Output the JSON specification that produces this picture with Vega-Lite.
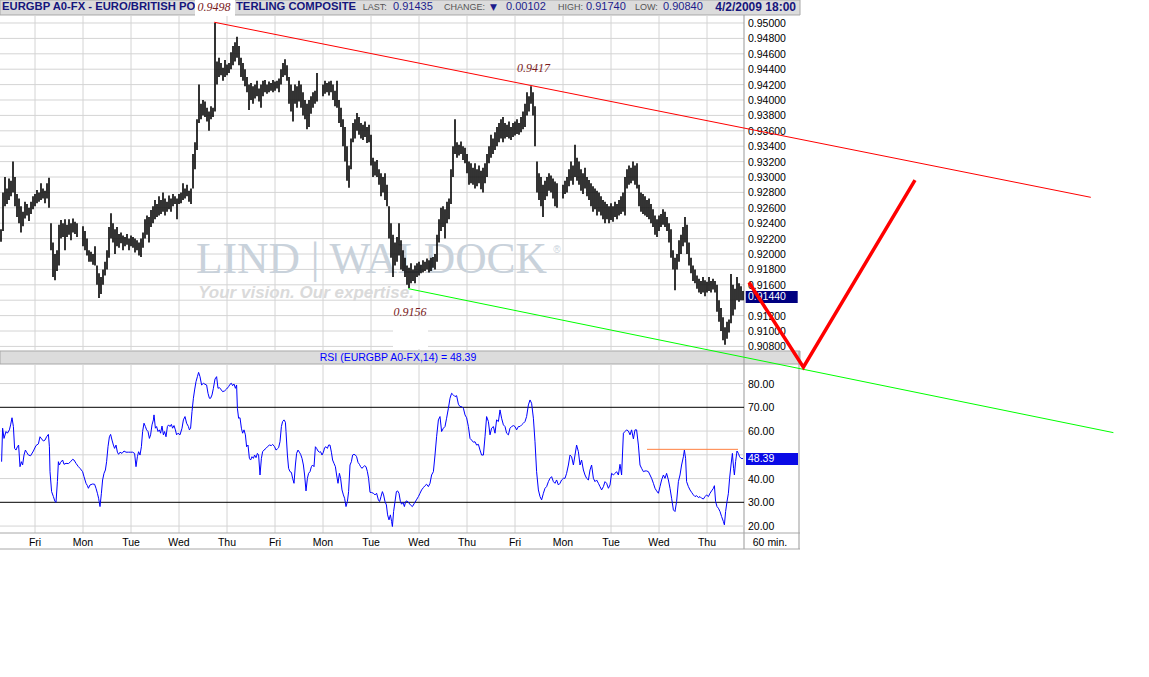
{
"$schema": "https://vega.github.io/schema/vega-lite/v6.json",
"width": 1149, "height": 677, "autosize": "none", "padding": 0,
"background": "white",
"config": {"view": {"stroke": null}, "font": "Liberation Sans"},
"data": {"values": [{}]},
"datasets": {
"pgrid": [{"p":0.908},{"p":0.91},{"p":0.912},{"p":0.914},{"p":0.916},{"p":0.918},{"p":0.92},{"p":0.922},{"p":0.924},{"p":0.926},{"p":0.928},{"p":0.93},{"p":0.932},{"p":0.934},{"p":0.936},{"p":0.938},{"p":0.94},{"p":0.942},{"p":0.944},{"p":0.946},{"p":0.948},{"p":0.95}],
"days": [{"t":0,"d":"Fri"},{"t":24,"d":"Mon"},{"t":48,"d":"Tue"},{"t":72,"d":"Wed"},{"t":96,"d":"Thu"},{"t":120,"d":"Fri"},{"t":144,"d":"Mon"},{"t":168,"d":"Tue"},{"t":192,"d":"Wed"},{"t":216,"d":"Thu"},{"t":240,"d":"Fri"},{"t":264,"d":"Mon"},{"t":288,"d":"Tue"},{"t":312,"d":"Wed"},{"t":336,"d":"Thu"}],
"rgrid": [{"v":20},{"v":40},{"v":50},{"v":60},{"v":80}],
"rlev": [{"v":30},{"v":70}],
"rlabels": [{"v":20},{"v":30},{"v":40},{"v":60},{"v":70},{"v":80}],
"orange": [{"t":306,"v":52.3},{"t":351.5,"v":52.3}],
"upper": [{"t":89.6,"p":0.9501},{"t":527.9,"p":0.92736}],
"lower": [{"t":186.6,"p":0.9155},{"t":539.2,"p":0.8968}],
"arrow": [{"t":357,"p":0.9163},{"t":384.2,"p":0.9053},{"t":440,"p":0.9296}],
"bars": [
{"t":-17,"h":0.9232,"l":0.9216},{"t":-16,"h":0.928,"l":0.923},{"t":-15,"h":0.93,"l":0.9262},{"t":-14,"h":0.9285,"l":0.9265},{"t":-13,"h":0.9298,"l":0.927},{"t":-12,"h":0.9295,"l":0.9275},{"t":-11,"h":0.932,"l":0.928},{"t":-10,"h":0.93,"l":0.9262},{"t":-9,"h":0.9278,"l":0.9248},{"t":-8,"h":0.9272,"l":0.924},{"t":-7,"h":0.9262,"l":0.9228},{"t":-6,"h":0.9255,"l":0.9236},{"t":-5,"h":0.9268,"l":0.9246},{"t":-4,"h":0.9265,"l":0.925},{"t":-3,"h":0.926,"l":0.9243},{"t":-2,"h":0.9268,"l":0.9252},{"t":-1,"h":0.9275,"l":0.9258},
{"t":0,"h":0.9278,"l":0.9262},{"t":1,"h":0.9283,"l":0.9266},{"t":2,"h":0.928,"l":0.9268},{"t":3,"h":0.9292,"l":0.927},{"t":4,"h":0.9285,"l":0.9272},{"t":5,"h":0.9282,"l":0.9266},{"t":6,"h":0.9292,"l":0.9272},{"t":7,"h":0.9299,"l":0.926},{"t":8,"h":0.924,"l":0.9205},{"t":9,"h":0.9215,"l":0.917},{"t":10,"h":0.92,"l":0.9166},{"t":11,"h":0.9205,"l":0.9178},{"t":12,"h":0.9238,"l":0.9185},{"t":13,"h":0.9244,"l":0.922},{"t":14,"h":0.924,"l":0.9222},{"t":15,"h":0.9245,"l":0.9205},{"t":16,"h":0.9238,"l":0.9222},{"t":17,"h":0.9245,"l":0.9225},{"t":18,"h":0.924,"l":0.9218},{"t":19,"h":0.9246,"l":0.9228},{"t":20,"h":0.9242,"l":0.9226},{"t":21,"h":0.924,"l":0.9222},
{"t":24,"h":0.9236,"l":0.921},{"t":25,"h":0.923,"l":0.9205},{"t":26,"h":0.922,"l":0.9198},{"t":27,"h":0.9205,"l":0.919},{"t":28,"h":0.9203,"l":0.919},{"t":29,"h":0.92,"l":0.9186},{"t":30,"h":0.921,"l":0.9185},{"t":31,"h":0.9185,"l":0.916},{"t":32,"h":0.9175,"l":0.9143},{"t":33,"h":0.917,"l":0.9148},{"t":34,"h":0.918,"l":0.916},{"t":35,"h":0.919,"l":0.9172},{"t":36,"h":0.9205,"l":0.918},{"t":37,"h":0.9235,"l":0.9195},{"t":38,"h":0.9253,"l":0.922},{"t":39,"h":0.924,"l":0.9215},{"t":40,"h":0.9232,"l":0.92},{"t":41,"h":0.9235,"l":0.921},{"t":42,"h":0.9226,"l":0.9208},{"t":43,"h":0.9228,"l":0.9214},{"t":44,"h":0.9224,"l":0.9205},{"t":45,"h":0.9222,"l":0.921},{"t":46,"h":0.9226,"l":0.9212},{"t":47,"h":0.922,"l":0.9205},{"t":48,"h":0.9224,"l":0.921},{"t":49,"h":0.9222,"l":0.9208},{"t":50,"h":0.922,"l":0.9202},{"t":51,"h":0.9218,"l":0.9205},{"t":52,"h":0.9215,"l":0.9198},{"t":53,"h":0.922,"l":0.9196},{"t":54,"h":0.9228,"l":0.9208},{"t":55,"h":0.9245,"l":0.922},{"t":56,"h":0.925,"l":0.9225},{"t":57,"h":0.9248,"l":0.9215},{"t":58,"h":0.9257,"l":0.9235},{"t":59,"h":0.9262,"l":0.924},{"t":60,"h":0.927,"l":0.9245},{"t":61,"h":0.9265,"l":0.9248},{"t":62,"h":0.9275,"l":0.925},{"t":63,"h":0.927,"l":0.9252},{"t":64,"h":0.928,"l":0.9255},{"t":65,"h":0.9272,"l":0.925},{"t":66,"h":0.9268,"l":0.9255},{"t":67,"h":0.9276,"l":0.9258},{"t":68,"h":0.9272,"l":0.9255},{"t":69,"h":0.9278,"l":0.9262},{"t":70,"h":0.9275,"l":0.9265},{"t":71,"h":0.9272,"l":0.9245},{"t":72,"h":0.9278,"l":0.9265},{"t":73,"h":0.928,"l":0.9266},{"t":74,"h":0.9292,"l":0.927},{"t":75,"h":0.9285,"l":0.9272},{"t":76,"h":0.929,"l":0.9275},{"t":77,"h":0.9282,"l":0.9268},{"t":78,"h":0.9285,"l":0.9265},{"t":79,"h":0.933,"l":0.9285},{"t":80,"h":0.9345,"l":0.931},{"t":81,"h":0.9375,"l":0.9335},{"t":82,"h":0.942,"l":0.937},{"t":83,"h":0.9395,"l":0.9375},{"t":84,"h":0.94,"l":0.938},{"t":85,"h":0.9398,"l":0.9378},{"t":86,"h":0.939,"l":0.9372},{"t":87,"h":0.9385,"l":0.936},{"t":88,"h":0.9392,"l":0.9375},{"t":89,"h":0.939,"l":0.9378},{"t":90,"h":0.95,"l":0.9385},{"t":91,"h":0.945,"l":0.942},{"t":92,"h":0.9455,"l":0.943},{"t":93,"h":0.9448,"l":0.9432},{"t":94,"h":0.9442,"l":0.9425},{"t":95,"h":0.9452,"l":0.943},{"t":96,"h":0.9446,"l":0.9432},{"t":97,"h":0.9448,"l":0.9435},{"t":98,"h":0.9462,"l":0.944},{"t":99,"h":0.947,"l":0.9445},{"t":100,"h":0.9475,"l":0.945},{"t":101,"h":0.9482,"l":0.9455},{"t":102,"h":0.947,"l":0.9445},{"t":103,"h":0.9455,"l":0.943},{"t":104,"h":0.9448,"l":0.9425},{"t":105,"h":0.944,"l":0.9418},{"t":106,"h":0.943,"l":0.941},{"t":107,"h":0.942,"l":0.9387},{"t":108,"h":0.9422,"l":0.94},{"t":109,"h":0.9418,"l":0.9395},{"t":110,"h":0.942,"l":0.9402},{"t":111,"h":0.9425,"l":0.9405},{"t":112,"h":0.9415,"l":0.9398},{"t":113,"h":0.942,"l":0.939},{"t":114,"h":0.9425,"l":0.9405},{"t":115,"h":0.9426,"l":0.941},{"t":116,"h":0.942,"l":0.9408},{"t":117,"h":0.9424,"l":0.941},{"t":118,"h":0.9422,"l":0.9412},{"t":119,"h":0.9426,"l":0.941},{"t":120,"h":0.9424,"l":0.9412},{"t":121,"h":0.9425,"l":0.9415},{"t":122,"h":0.9428,"l":0.941},{"t":123,"h":0.944,"l":0.942},{"t":124,"h":0.9448,"l":0.943},{"t":125,"h":0.9453,"l":0.9432},{"t":126,"h":0.9445,"l":0.9425},{"t":127,"h":0.943,"l":0.9395},{"t":128,"h":0.942,"l":0.9385},{"t":129,"h":0.9412,"l":0.9372},{"t":130,"h":0.942,"l":0.9395},{"t":131,"h":0.9418,"l":0.939},{"t":132,"h":0.9425,"l":0.9398},{"t":133,"h":0.942,"l":0.939},{"t":134,"h":0.941,"l":0.938},{"t":135,"h":0.94,"l":0.9375},{"t":136,"h":0.9395,"l":0.9362},{"t":137,"h":0.94,"l":0.9365},{"t":138,"h":0.9405,"l":0.9382},{"t":139,"h":0.941,"l":0.939},{"t":140,"h":0.9412,"l":0.9395},{"t":141,"h":0.9435,"l":0.9398},
{"t":144,"h":0.942,"l":0.9405},{"t":145,"h":0.9425,"l":0.9408},{"t":146,"h":0.9422,"l":0.941},{"t":147,"h":0.9424,"l":0.9406},{"t":148,"h":0.9425,"l":0.941},{"t":149,"h":0.942,"l":0.94},{"t":150,"h":0.9412,"l":0.9392},{"t":151,"h":0.9425,"l":0.939},{"t":152,"h":0.94,"l":0.937},{"t":153,"h":0.939,"l":0.9365},{"t":154,"h":0.9375,"l":0.934},{"t":155,"h":0.9365,"l":0.932},{"t":156,"h":0.934,"l":0.9295},{"t":157,"h":0.9315,"l":0.9286},{"t":158,"h":0.935,"l":0.931},{"t":159,"h":0.937,"l":0.9345},{"t":160,"h":0.9375,"l":0.935},{"t":161,"h":0.9383,"l":0.936},{"t":162,"h":0.9378,"l":0.9355},{"t":163,"h":0.937,"l":0.935},{"t":164,"h":0.9368,"l":0.9348},{"t":165,"h":0.9372,"l":0.9352},{"t":166,"h":0.9365,"l":0.9344},{"t":167,"h":0.9368,"l":0.9345},{"t":168,"h":0.9355,"l":0.9315},{"t":169,"h":0.9325,"l":0.93},{"t":170,"h":0.932,"l":0.9302},{"t":171,"h":0.9322,"l":0.93},{"t":172,"h":0.931,"l":0.929},{"t":173,"h":0.9305,"l":0.9275},{"t":174,"h":0.93,"l":0.928},{"t":175,"h":0.9305,"l":0.927},{"t":176,"h":0.929,"l":0.9262},{"t":177,"h":0.9262,"l":0.922},{"t":178,"h":0.924,"l":0.9195},{"t":179,"h":0.9225,"l":0.917},{"t":180,"h":0.9215,"l":0.9185},{"t":181,"h":0.9222,"l":0.919},{"t":182,"h":0.924,"l":0.9198},{"t":183,"h":0.9218,"l":0.918},{"t":184,"h":0.9205,"l":0.9178},{"t":185,"h":0.9195,"l":0.917},{"t":186,"h":0.9185,"l":0.916},{"t":187,"h":0.9182,"l":0.9156},{"t":188,"h":0.9188,"l":0.9162},{"t":189,"h":0.918,"l":0.9165},{"t":190,"h":0.9185,"l":0.9162},{"t":191,"h":0.9188,"l":0.917},{"t":192,"h":0.919,"l":0.9172},{"t":193,"h":0.9186,"l":0.9175},{"t":194,"h":0.9192,"l":0.9176},{"t":195,"h":0.919,"l":0.9178},{"t":196,"h":0.9194,"l":0.918},{"t":197,"h":0.9192,"l":0.9176},{"t":198,"h":0.9195,"l":0.9178},{"t":199,"h":0.9196,"l":0.9182},{"t":200,"h":0.92,"l":0.918},{"t":201,"h":0.9225,"l":0.919},{"t":202,"h":0.9245,"l":0.9215},{"t":203,"h":0.926,"l":0.923},{"t":204,"h":0.9262,"l":0.9235},{"t":205,"h":0.9258,"l":0.922},{"t":206,"h":0.9268,"l":0.924},{"t":207,"h":0.9272,"l":0.9245},{"t":208,"h":0.931,"l":0.9265},{"t":209,"h":0.934,"l":0.93},{"t":210,"h":0.9375,"l":0.933},{"t":211,"h":0.9345,"l":0.9325},{"t":212,"h":0.9342,"l":0.9328},{"t":213,"h":0.9346,"l":0.933},{"t":214,"h":0.934,"l":0.9322},{"t":215,"h":0.9338,"l":0.9318},{"t":216,"h":0.933,"l":0.9305},{"t":217,"h":0.932,"l":0.929},{"t":218,"h":0.9318,"l":0.9292},{"t":219,"h":0.9312,"l":0.929},{"t":220,"h":0.9318,"l":0.9285},{"t":221,"h":0.931,"l":0.9288},{"t":222,"h":0.9315,"l":0.9292},{"t":223,"h":0.9308,"l":0.9284},{"t":224,"h":0.9312,"l":0.928},{"t":225,"h":0.9318,"l":0.9292},{"t":226,"h":0.933,"l":0.93},{"t":227,"h":0.934,"l":0.9318},{"t":228,"h":0.9355,"l":0.9325},{"t":229,"h":0.935,"l":0.933},{"t":230,"h":0.9358,"l":0.9335},{"t":231,"h":0.9365,"l":0.934},{"t":232,"h":0.937,"l":0.9345},{"t":233,"h":0.9375,"l":0.935},{"t":234,"h":0.9378,"l":0.9345},{"t":235,"h":0.937,"l":0.935},{"t":236,"h":0.9368,"l":0.9352},{"t":237,"h":0.9372,"l":0.935},{"t":238,"h":0.9365,"l":0.9348},{"t":239,"h":0.937,"l":0.9352},{"t":240,"h":0.9372,"l":0.9354},{"t":241,"h":0.9375,"l":0.9356},{"t":242,"h":0.937,"l":0.9355},{"t":243,"h":0.9378,"l":0.9358},{"t":244,"h":0.9385,"l":0.9362},{"t":245,"h":0.9395,"l":0.9365},{"t":246,"h":0.941,"l":0.938},{"t":247,"h":0.9405,"l":0.9385},{"t":248,"h":0.9418,"l":0.9395},{"t":249,"h":0.941,"l":0.938},{"t":250,"h":0.9392,"l":0.934},{"t":251,"h":0.932,"l":0.928},{"t":252,"h":0.9305,"l":0.927},{"t":253,"h":0.93,"l":0.9262},{"t":254,"h":0.929,"l":0.9248},{"t":255,"h":0.9295,"l":0.927},{"t":256,"h":0.93,"l":0.9275},{"t":257,"h":0.9305,"l":0.9282},{"t":258,"h":0.9302,"l":0.928},{"t":259,"h":0.9298,"l":0.9272},{"t":260,"h":0.9294,"l":0.9262},{"t":261,"h":0.9292,"l":0.926},
{"t":264,"h":0.929,"l":0.9272},{"t":265,"h":0.9295,"l":0.9278},{"t":266,"h":0.93,"l":0.928},{"t":267,"h":0.931,"l":0.9288},{"t":268,"h":0.932,"l":0.9295},{"t":269,"h":0.9315,"l":0.929},{"t":270,"h":0.9342,"l":0.93},{"t":271,"h":0.9325,"l":0.9295},{"t":272,"h":0.932,"l":0.929},{"t":273,"h":0.931,"l":0.9282},{"t":274,"h":0.9305,"l":0.9278},{"t":275,"h":0.9312,"l":0.9285},{"t":276,"h":0.93,"l":0.9275},{"t":277,"h":0.9296,"l":0.927},{"t":278,"h":0.9292,"l":0.9262},{"t":279,"h":0.9288,"l":0.9255},{"t":280,"h":0.9285,"l":0.9258},{"t":281,"h":0.9282,"l":0.925},{"t":282,"h":0.928,"l":0.9255},{"t":283,"h":0.9275,"l":0.925},{"t":284,"h":0.927,"l":0.9245},{"t":285,"h":0.9268,"l":0.924},{"t":286,"h":0.9265,"l":0.9245},{"t":287,"h":0.9262,"l":0.924},{"t":288,"h":0.9266,"l":0.9244},{"t":289,"h":0.9262,"l":0.9242},{"t":290,"h":0.9268,"l":0.9248},{"t":291,"h":0.9265,"l":0.9245},{"t":292,"h":0.927,"l":0.925},{"t":293,"h":0.9275,"l":0.9252},{"t":294,"h":0.928,"l":0.9255},{"t":295,"h":0.93,"l":0.925},{"t":296,"h":0.931,"l":0.9285},{"t":297,"h":0.9315,"l":0.929},{"t":298,"h":0.9312,"l":0.9292},{"t":299,"h":0.932,"l":0.9295},{"t":300,"h":0.9315,"l":0.929},{"t":301,"h":0.9318,"l":0.9285},{"t":302,"h":0.929,"l":0.9262},{"t":303,"h":0.928,"l":0.9255},{"t":304,"h":0.9278,"l":0.9252},{"t":305,"h":0.9275,"l":0.925},{"t":306,"h":0.927,"l":0.9248},{"t":307,"h":0.9272,"l":0.9245},{"t":308,"h":0.9265,"l":0.924},{"t":309,"h":0.9258,"l":0.9235},{"t":310,"h":0.925,"l":0.9225},{"t":311,"h":0.9245,"l":0.9222},{"t":312,"h":0.925,"l":0.923},{"t":313,"h":0.9252,"l":0.9235},{"t":314,"h":0.9258,"l":0.9238},{"t":315,"h":0.9255,"l":0.9235},{"t":316,"h":0.9248,"l":0.923},{"t":317,"h":0.924,"l":0.9215},{"t":318,"h":0.9232,"l":0.9195},{"t":319,"h":0.9205,"l":0.918},{"t":320,"h":0.9195,"l":0.9153},{"t":321,"h":0.92,"l":0.918},{"t":322,"h":0.9218,"l":0.919},{"t":323,"h":0.9225,"l":0.92},{"t":324,"h":0.9235,"l":0.921},{"t":325,"h":0.9248,"l":0.9215},{"t":326,"h":0.9238,"l":0.92},{"t":327,"h":0.9215,"l":0.9185},{"t":328,"h":0.9195,"l":0.9175},{"t":329,"h":0.9185,"l":0.9165},{"t":330,"h":0.918,"l":0.9162},{"t":331,"h":0.9172,"l":0.9155},{"t":332,"h":0.9168,"l":0.915},{"t":333,"h":0.9165,"l":0.9148},{"t":334,"h":0.917,"l":0.915},{"t":335,"h":0.9166,"l":0.9145},{"t":336,"h":0.9164,"l":0.915},{"t":337,"h":0.917,"l":0.9152},{"t":338,"h":0.9165,"l":0.915},{"t":339,"h":0.9168,"l":0.9154},{"t":340,"h":0.9165,"l":0.915},{"t":341,"h":0.916,"l":0.9125},{"t":342,"h":0.914,"l":0.9112},{"t":343,"h":0.913,"l":0.91},{"t":344,"h":0.9118,"l":0.9088},{"t":345,"h":0.9105,"l":0.9082},{"t":346,"h":0.9112,"l":0.909},{"t":347,"h":0.9115,"l":0.9098},{"t":348,"h":0.9174,"l":0.911},{"t":349,"h":0.916,"l":0.912},{"t":350,"h":0.9155,"l":0.9128},{"t":351,"h":0.917,"l":0.914},{"t":352,"h":0.9162,"l":0.9138},{"t":353,"h":0.9158,"l":0.914},{"t":354,"h":0.9152,"l":0.914}
],
"rsi": [
{"t":-16.7,"v":47.1},{"t":-16.2,"v":61.2},{"t":-15.5,"v":56.9},{"t":-14.5,"v":59.8},{"t":-13.8,"v":59.1},{"t":-12.8,"v":60.5},{"t":-12.2,"v":62.6},{"t":-11.5,"v":65.6},{"t":-10.8,"v":61.9},{"t":-10.2,"v":52.7},{"t":-9.5,"v":52.0},{"t":-8.8,"v":53.4},{"t":-8.2,"v":54.1},{"t":-7.5,"v":45.0},{"t":-6.8,"v":47.1},{"t":-6.2,"v":45.7},{"t":-5.5,"v":49.9},{"t":-4.8,"v":52.0},{"t":-4.2,"v":51.1},{"t":-3.3,"v":49.9},{"t":-2.2,"v":49.6},{"t":-0.8,"v":51.6},{"t":0.5,"v":53.9},{"t":1.7,"v":54.6},{"t":2.5,"v":57.6},{"t":3.3,"v":56.7},{"t":4.2,"v":55.8},{"t":5.0,"v":56.2},{"t":5.8,"v":57.6},{"t":6.7,"v":58.6},{"t":7.2,"v":53.4},{"t":7.5,"v":42.9},{"t":8.3,"v":34.5},{"t":9.2,"v":32.4},{"t":10.0,"v":30.3},{"t":10.5,"v":30.0},{"t":11.2,"v":38.7},{"t":11.7,"v":47.1},{"t":12.2,"v":45.7},{"t":12.8,"v":46.8},{"t":13.8,"v":47.8},{"t":14.5,"v":46.0},{"t":15.5,"v":46.4},{"t":16.7,"v":46.3},{"t":17.8,"v":47.1},{"t":18.8,"v":48.1},{"t":19.5,"v":47.8},{"t":20.5,"v":46.4},{"t":21.7,"v":45.0},{"t":22.5,"v":44.3},{"t":23.8,"v":42.9},{"t":24.5,"v":40.8},{"t":25.5,"v":38.0},{"t":26.2,"v":37.0},{"t":26.7,"v":35.9},{"t":27.5,"v":37.3},{"t":28.8,"v":37.7},{"t":29.8,"v":37.6},{"t":30.5,"v":35.9},{"t":31.2,"v":33.8},{"t":31.8,"v":31.7},{"t":32.5,"v":28.2},{"t":33.2,"v":33.8},{"t":33.8,"v":39.4},{"t":34.5,"v":42.2},{"t":35.2,"v":43.6},{"t":35.8,"v":47.1},{"t":36.5,"v":53.4},{"t":37.2,"v":57.6},{"t":37.8,"v":58.6},{"t":38.5,"v":56.2},{"t":39.2,"v":54.1},{"t":39.8,"v":52.7},{"t":40.5,"v":54.1},{"t":41.2,"v":51.1},{"t":41.8,"v":50.2},{"t":42.5,"v":51.1},{"t":43.5,"v":50.6},{"t":44.5,"v":51.6},{"t":45.5,"v":51.1},{"t":46.7,"v":51.1},{"t":47.8,"v":51.1},{"t":48.8,"v":51.1},{"t":49.8,"v":50.6},{"t":50.5,"v":45.0},{"t":51.2,"v":49.2},{"t":51.8,"v":51.3},{"t":52.5,"v":49.9},{"t":53.2,"v":53.4},{"t":53.8,"v":59.8},{"t":54.5,"v":63.3},{"t":55.2,"v":61.9},{"t":55.8,"v":60.5},{"t":56.5,"v":59.8},{"t":57.2,"v":56.9},{"t":57.8,"v":58.4},{"t":58.5,"v":62.6},{"t":59.2,"v":64.7},{"t":59.5,"v":66.8},{"t":60.2,"v":61.2},{"t":60.8,"v":61.9},{"t":61.5,"v":59.8},{"t":62.2,"v":60.5},{"t":62.8,"v":59.1},{"t":63.5,"v":62.1},{"t":64.2,"v":58.4},{"t":64.8,"v":59.8},{"t":65.5,"v":57.6},{"t":66.2,"v":61.9},{"t":66.8,"v":62.6},{"t":67.5,"v":61.9},{"t":68.2,"v":62.8},{"t":68.8,"v":61.2},{"t":69.5,"v":62.3},{"t":70.2,"v":60.5},{"t":70.8,"v":58.4},{"t":71.5,"v":59.1},{"t":72.5,"v":58.4},{"t":73.5,"v":61.2},{"t":74.2,"v":64.7},{"t":75.0,"v":66.1},{"t":75.8,"v":63.3},{"t":76.7,"v":61.9},{"t":77.2,"v":60.5},{"t":77.8,"v":61.2},{"t":78.5,"v":68.2},{"t":79.2,"v":73.8},{"t":79.8,"v":77.3},{"t":80.5,"v":80.8},{"t":81.2,"v":82.9},{"t":81.8,"v":84.7},{"t":82.5,"v":82.9},{"t":83.3,"v":79.4},{"t":84.2,"v":80.1},{"t":85.0,"v":79.7},{"t":85.8,"v":79.4},{"t":86.5,"v":75.9},{"t":87.2,"v":73.8},{"t":87.8,"v":73.8},{"t":88.5,"v":75.2},{"t":89.2,"v":78.0},{"t":90.0,"v":81.9},{"t":90.8,"v":82.9},{"t":91.5,"v":78.0},{"t":92.2,"v":78.3},{"t":92.8,"v":77.7},{"t":93.8,"v":76.6},{"t":94.8,"v":76.9},{"t":95.8,"v":77.7},{"t":96.8,"v":78.7},{"t":97.5,"v":79.7},{"t":98.2,"v":80.1},{"t":98.8,"v":79.1},{"t":99.5,"v":79.8},{"t":100.2,"v":78.0},{"t":100.8,"v":79.4},{"t":101.2,"v":69.6},{"t":101.8,"v":65.4},{"t":102.5,"v":65.6},{"t":103.2,"v":61.2},{"t":103.8,"v":59.1},{"t":104.5,"v":60.5},{"t":105.2,"v":58.4},{"t":105.8,"v":53.4},{"t":106.5,"v":54.1},{"t":107.2,"v":48.5},{"t":107.8,"v":47.8},{"t":108.5,"v":49.2},{"t":109.2,"v":48.5},{"t":109.8,"v":49.9},{"t":110.5,"v":48.8},{"t":111.2,"v":50.6},{"t":111.8,"v":49.9},{"t":112.5,"v":41.5},{"t":113.2,"v":48.5},{"t":113.8,"v":51.3},{"t":114.5,"v":52.0},{"t":115.5,"v":52.7},{"t":116.2,"v":53.4},{"t":117.2,"v":54.1},{"t":118.2,"v":53.9},{"t":118.8,"v":54.4},{"t":119.8,"v":53.4},{"t":120.5,"v":52.0},{"t":121.2,"v":52.5},{"t":121.8,"v":53.0},{"t":122.5,"v":55.5},{"t":123.2,"v":61.9},{"t":123.8,"v":64.0},{"t":124.5,"v":64.7},{"t":125.2,"v":63.7},{"t":125.5,"v":59.8},{"t":126.2,"v":49.9},{"t":126.8,"v":44.3},{"t":127.5,"v":42.9},{"t":128.2,"v":42.6},{"t":128.8,"v":40.1},{"t":129.5,"v":38.0},{"t":130.2,"v":45.7},{"t":130.8,"v":50.6},{"t":131.5,"v":52.0},{"t":132.2,"v":51.1},{"t":132.8,"v":50.2},{"t":133.5,"v":48.5},{"t":134.2,"v":45.7},{"t":134.8,"v":41.5},{"t":135.5,"v":34.8},{"t":136.2,"v":40.1},{"t":136.8,"v":42.2},{"t":137.5,"v":42.9},{"t":138.2,"v":45.0},{"t":138.8,"v":45.7},{"t":139.5,"v":45.0},{"t":140.2,"v":53.4},{"t":140.8,"v":52.7},{"t":141.5,"v":51.6},{"t":142.2,"v":51.1},{"t":142.8,"v":51.3},{"t":143.5,"v":49.9},{"t":144.2,"v":51.1},{"t":144.8,"v":53.0},{"t":145.5,"v":53.4},{"t":146.2,"v":52.7},{"t":146.8,"v":54.1},{"t":147.5,"v":54.1},{"t":148.2,"v":51.1},{"t":148.8,"v":47.8},{"t":149.5,"v":46.4},{"t":150.2,"v":45.0},{"t":150.8,"v":41.5},{"t":151.5,"v":38.0},{"t":152.2,"v":42.2},{"t":152.8,"v":40.1},{"t":153.5,"v":35.2},{"t":154.2,"v":33.1},{"t":154.8,"v":31.7},{"t":155.5,"v":28.2},{"t":156.2,"v":30.3},{"t":156.8,"v":34.5},{"t":157.5,"v":45.7},{"t":158.2,"v":47.1},{"t":158.8,"v":49.9},{"t":159.5,"v":50.2},{"t":160.2,"v":49.9},{"t":160.8,"v":49.2},{"t":161.5,"v":46.8},{"t":162.2,"v":46.0},{"t":162.8,"v":45.0},{"t":163.5,"v":44.3},{"t":164.2,"v":45.0},{"t":164.8,"v":45.4},{"t":165.5,"v":45.0},{"t":166.2,"v":42.9},{"t":166.8,"v":40.1},{"t":167.5,"v":34.2},{"t":168.3,"v":34.1},{"t":169.2,"v":33.8},{"t":170.0,"v":33.1},{"t":170.8,"v":33.8},{"t":171.7,"v":31.0},{"t":172.3,"v":30.3},{"t":173.0,"v":32.4},{"t":173.7,"v":34.5},{"t":174.3,"v":33.1},{"t":175.0,"v":30.3},{"t":175.7,"v":28.9},{"t":176.3,"v":24.7},{"t":177.0,"v":22.6},{"t":177.7,"v":24.7},{"t":178.3,"v":21.9},{"t":178.7,"v":19.8},{"t":179.3,"v":26.1},{"t":180.0,"v":30.3},{"t":180.7,"v":34.5},{"t":181.3,"v":34.8},{"t":182.0,"v":33.8},{"t":182.7,"v":30.3},{"t":183.3,"v":29.2},{"t":184.0,"v":30.0},{"t":184.7,"v":28.2},{"t":185.3,"v":30.3},{"t":186.0,"v":30.6},{"t":186.7,"v":30.0},{"t":187.7,"v":28.9},{"t":188.7,"v":28.2},{"t":189.7,"v":29.6},{"t":190.7,"v":31.0},{"t":191.7,"v":32.4},{"t":192.5,"v":33.8},{"t":193.3,"v":35.2},{"t":194.2,"v":36.2},{"t":195.0,"v":37.0},{"t":195.8,"v":37.6},{"t":196.7,"v":36.6},{"t":197.5,"v":38.0},{"t":198.3,"v":41.5},{"t":199.2,"v":42.9},{"t":200.0,"v":49.9},{"t":200.8,"v":57.6},{"t":201.7,"v":64.7},{"t":202.5,"v":66.1},{"t":203.3,"v":59.8},{"t":204.2,"v":61.2},{"t":205.0,"v":61.9},{"t":205.8,"v":65.4},{"t":206.7,"v":69.6},{"t":207.5,"v":73.8},{"t":208.3,"v":75.9},{"t":209.2,"v":75.2},{"t":210.0,"v":74.5},{"t":210.8,"v":74.9},{"t":211.7,"v":71.3},{"t":212.5,"v":70.3},{"t":213.3,"v":70.3},{"t":214.2,"v":69.6},{"t":215.0,"v":66.8},{"t":215.8,"v":65.6},{"t":216.7,"v":61.9},{"t":217.5,"v":56.9},{"t":218.3,"v":56.2},{"t":219.2,"v":55.3},{"t":220.0,"v":55.5},{"t":220.8,"v":54.1},{"t":221.7,"v":54.4},{"t":222.5,"v":52.0},{"t":223.3,"v":49.9},{"t":224.2,"v":49.9},{"t":225.0,"v":57.6},{"t":225.8,"v":66.1},{"t":226.7,"v":64.0},{"t":227.5,"v":58.4},{"t":228.3,"v":61.2},{"t":229.2,"v":61.9},{"t":230.0,"v":59.1},{"t":230.8,"v":64.7},{"t":231.7,"v":64.0},{"t":232.5,"v":68.9},{"t":233.3,"v":65.4},{"t":234.2,"v":62.6},{"t":235.0,"v":61.9},{"t":235.8,"v":59.1},{"t":236.7,"v":58.4},{"t":237.5,"v":61.2},{"t":238.3,"v":61.9},{"t":239.2,"v":62.3},{"t":240.0,"v":61.9},{"t":240.8,"v":60.5},{"t":241.7,"v":61.9},{"t":242.5,"v":61.9},{"t":243.3,"v":62.6},{"t":244.2,"v":63.3},{"t":245.0,"v":64.0},{"t":245.8,"v":66.1},{"t":246.7,"v":71.0},{"t":247.5,"v":73.1},{"t":248.3,"v":71.7},{"t":249.2,"v":65.4},{"t":250.0,"v":55.5},{"t":250.8,"v":42.9},{"t":251.7,"v":35.2},{"t":252.5,"v":32.4},{"t":253.3,"v":31.0},{"t":254.2,"v":33.8},{"t":255.0,"v":35.9},{"t":255.8,"v":36.6},{"t":256.7,"v":38.7},{"t":257.5,"v":40.1},{"t":258.3,"v":40.8},{"t":259.2,"v":38.7},{"t":260.0,"v":38.0},{"t":260.8,"v":39.4},{"t":261.7,"v":37.3},{"t":262.5,"v":38.0},{"t":263.3,"v":39.4},{"t":264.2,"v":40.1},{"t":265.0,"v":40.1},{"t":265.8,"v":42.2},{"t":266.7,"v":45.7},{"t":267.5,"v":49.9},{"t":268.3,"v":49.2},{"t":269.2,"v":45.7},{"t":270.0,"v":49.9},{"t":270.8,"v":54.1},{"t":271.7,"v":51.3},{"t":272.5,"v":45.7},{"t":273.3,"v":47.8},{"t":274.2,"v":43.6},{"t":275.0,"v":41.5},{"t":275.8,"v":40.1},{"t":276.7,"v":39.4},{"t":277.5,"v":43.6},{"t":278.3,"v":45.7},{"t":279.2,"v":40.1},{"t":280.0,"v":38.7},{"t":280.8,"v":39.4},{"t":281.7,"v":38.0},{"t":282.5,"v":36.6},{"t":283.3,"v":35.2},{"t":284.2,"v":36.6},{"t":285.0,"v":38.7},{"t":285.8,"v":38.0},{"t":286.7,"v":35.9},{"t":287.5,"v":37.3},{"t":288.3,"v":42.2},{"t":289.2,"v":41.5},{"t":290.0,"v":42.2},{"t":290.8,"v":42.9},{"t":291.7,"v":41.5},{"t":292.5,"v":46.0},{"t":293.3,"v":41.5},{"t":294.2,"v":59.1},{"t":295.0,"v":59.8},{"t":295.8,"v":60.5},{"t":296.7,"v":60.0},{"t":297.5,"v":58.4},{"t":298.3,"v":60.5},{"t":299.2,"v":56.7},{"t":300.0,"v":60.5},{"t":300.8,"v":60.5},{"t":301.7,"v":54.1},{"t":302.5,"v":45.7},{"t":303.3,"v":44.3},{"t":304.2,"v":42.9},{"t":305.0,"v":43.2},{"t":305.8,"v":43.2},{"t":306.7,"v":42.9},{"t":307.5,"v":41.5},{"t":308.3,"v":40.1},{"t":309.2,"v":38.0},{"t":310.0,"v":35.9},{"t":310.8,"v":34.8},{"t":311.7,"v":33.8},{"t":312.5,"v":36.6},{"t":313.3,"v":39.4},{"t":314.2,"v":41.5},{"t":315.0,"v":40.1},{"t":315.8,"v":42.2},{"t":316.7,"v":39.4},{"t":317.5,"v":35.9},{"t":318.3,"v":31.7},{"t":319.2,"v":26.8},{"t":320.0,"v":26.1},{"t":320.8,"v":30.3},{"t":321.7,"v":38.7},{"t":322.5,"v":41.5},{"t":323.3,"v":45.7},{"t":324.2,"v":49.2},{"t":324.7,"v":52.0},{"t":325.3,"v":48.5},{"t":325.8,"v":38.7},{"t":326.7,"v":36.6},{"t":327.5,"v":35.2},{"t":328.3,"v":34.2},{"t":329.2,"v":33.1},{"t":330.0,"v":32.4},{"t":330.8,"v":32.8},{"t":331.7,"v":32.0},{"t":332.5,"v":32.4},{"t":333.3,"v":31.7},{"t":334.2,"v":31.4},{"t":335.0,"v":32.4},{"t":335.8,"v":33.1},{"t":336.7,"v":32.4},{"t":337.5,"v":33.8},{"t":338.3,"v":34.8},{"t":339.2,"v":35.9},{"t":339.7,"v":37.0},{"t":340.3,"v":30.3},{"t":341.0,"v":28.2},{"t":341.7,"v":27.5},{"t":342.5,"v":26.1},{"t":343.3,"v":24.0},{"t":344.2,"v":21.9},{"t":344.7,"v":20.5},{"t":345.3,"v":26.1},{"t":346.0,"v":30.3},{"t":346.7,"v":33.8},{"t":347.3,"v":40.1},{"t":348.0,"v":45.7},{"t":348.7,"v":50.6},{"t":349.3,"v":44.3},{"t":349.7,"v":41.5},{"t":350.3,"v":47.1},{"t":351.0,"v":51.6},{"t":351.7,"v":50.6},{"t":352.3,"v":49.2},{"t":353.0,"v":48.5},{"t":354.0,"v":48.4}
]
},
"resolve": {"scale": {"y": "independent"}},
"layer": [
{
"layer": [
{"mark": {"type": "rect", "fill": "#dcdcdc", "stroke": "#a8a8a8", "strokeWidth": 1},
 "encoding": {
  "x": {"datum": -17.5, "type": "quantitative", "scale": {"domain": [-17.5, 557], "nice": false, "zero": false}, "axis": null},
  "x2": {"datum": 382.5},
  "y": {"datum": 0.952987, "type": "quantitative", "scale": {"domain": [0.865065, 0.952987], "nice": false, "zero": false}, "axis": null},
  "y2": {"datum": 0.951039}}},
{"mark": {"type": "rect", "fill": "#dcdcdc", "stroke": "#a8a8a8", "strokeWidth": 1},
 "encoding": {"x": {"datum": -17.5, "axis": null}, "x2": {"datum": 382.5}, "y": {"datum": 0.907403, "axis": null}, "y2": {"datum": 0.905714}}},
{"data": {"name": "pgrid"}, "mark": {"type": "rule", "color": "#d4d4d4", "strokeWidth": 1},
 "encoding": {"x": {"datum": -17.5, "axis": null}, "x2": {"datum": 354.5}, "y": {"field": "p", "type": "quantitative", "axis": null}}},
{"data": {"name": "days"}, "mark": {"type": "rule", "color": "#d4d4d4", "strokeWidth": 1},
 "encoding": {"x": {"field": "t", "type": "quantitative", "axis": null}, "y": {"datum": 0.950909, "axis": null}, "y2": {"datum": 0.907532}}},
{"data": {"name": "days"}, "mark": {"type": "rule", "color": "#d4d4d4", "strokeWidth": 1},
 "encoding": {"x": {"field": "t", "type": "quantitative", "axis": null}, "y": {"datum": 0.905714, "axis": null}, "y2": {"datum": 0.883766}}},
{"mark": {"type": "rule", "color": "#999999", "strokeWidth": 1},
 "encoding": {"x": {"datum": 354.5, "axis": null}, "y": {"datum": 0.951039, "axis": null}, "y2": {"datum": 0.881688}}},
{"mark": {"type": "rule", "color": "#999999", "strokeWidth": 1},
 "encoding": {"x": {"datum": 382, "axis": null}, "y": {"datum": 0.907403, "axis": null}, "y2": {"datum": 0.881688}}},
{"mark": {"type": "rule", "color": "#a8a8a8", "strokeWidth": 1},
 "encoding": {"x": {"datum": -17.5, "axis": null}, "x2": {"datum": 382.5}, "y": {"datum": 0.883766, "axis": null}}},
{"mark": {"type": "rule", "color": "#a8a8a8", "strokeWidth": 1},
 "encoding": {"x": {"datum": -17.5, "axis": null}, "x2": {"datum": 382.5}, "y": {"datum": 0.881688, "axis": null}}},
{"data": {"name": "pgrid"}, "transform": [{"filter": "datum.p != 0.914"}],
 "mark": {"type": "text", "align": "left", "baseline": "middle", "font": "Liberation Sans", "fontSize": 10.5, "color": "#000000", "dy": 1},
 "encoding": {"x": {"datum": 356.5, "axis": null}, "y": {"field": "p", "type": "quantitative", "axis": null}, "text": {"field": "p", "type": "quantitative", "format": ".5f"}}},
{"data": {"name": "days"},
 "mark": {"type": "text", "align": "center", "baseline": "middle", "font": "Liberation Sans", "fontSize": 10.5, "color": "#000000"},
 "encoding": {"x": {"field": "t", "type": "quantitative", "axis": null}, "y": {"datum": 0.882468, "axis": null}, "text": {"field": "d", "type": "nominal"}}},
{"mark": {"type": "text", "align": "center", "baseline": "alphabetic", "font": "Liberation Serif", "fontSize": 43.5, "color": "#c9d2db"},
 "encoding": {"x": {"datum": 168.25, "axis": null}, "y": {"datum": 0.917532, "axis": null}, "text": {"value": "LIND | WALDOCK"}}},
{"mark": {"type": "text", "align": "center", "baseline": "middle", "font": "Liberation Sans", "fontSize": 10, "color": "#c9d2db"},
 "encoding": {"x": {"datum": 261, "axis": null}, "y": {"datum": 0.92052, "axis": null}, "text": {"value": "®"}}},
{"mark": {"type": "text", "align": "center", "baseline": "middle", "font": "Liberation Sans", "fontSize": 17, "fontStyle": "italic", "fontWeight": "bold", "color": "#dadada"},
 "encoding": {"x": {"datum": 135.5, "axis": null}, "y": {"datum": 0.915, "axis": null}, "text": {"value": "Your vision. Our expertise."}}},
{"mark": {"type": "text", "align": "left", "baseline": "middle", "font": "Liberation Sans", "fontSize": 11.25, "fontWeight": "bold", "color": "#16167c"},
 "encoding": {"x": {"datum": -16.5, "axis": null}, "y": {"datum": 0.952013, "axis": null}, "text": {"value": "EURGBP A0-FX - EURO/BRITISH PO"}}},
{"mark": {"type": "text", "align": "left", "baseline": "middle", "font": "Liberation Sans", "fontSize": 11.25, "fontWeight": "bold", "color": "#16167c"},
 "encoding": {"x": {"datum": 100.5, "axis": null}, "y": {"datum": 0.952013, "axis": null}, "text": {"value": "TERLING COMPOSITE"}}},
{"mark": {"type": "text", "align": "left", "baseline": "middle", "font": "Liberation Sans", "fontSize": 9, "color": "#555555"},
 "encoding": {"x": {"datum": 163.85, "axis": null}, "y": {"datum": 0.952013, "axis": null}, "text": {"value": "LAST:"}}},
{"mark": {"type": "text", "align": "left", "baseline": "middle", "font": "Liberation Sans", "fontSize": 11, "color": "#1c1c8c"},
 "encoding": {"x": {"datum": 179, "axis": null}, "y": {"datum": 0.952013, "axis": null}, "text": {"value": "0.91435"}}},
{"mark": {"type": "text", "align": "left", "baseline": "middle", "font": "Liberation Sans", "fontSize": 9, "color": "#555555"},
 "encoding": {"x": {"datum": 204.5, "axis": null}, "y": {"datum": 0.952013, "axis": null}, "text": {"value": "CHANGE:"}}},
{"mark": {"type": "text", "align": "left", "baseline": "middle", "font": "DejaVu Sans", "fontSize": 9, "color": "#1c1c8c"},
 "encoding": {"x": {"datum": 227.5, "axis": null}, "y": {"datum": 0.952013, "axis": null}, "text": {"value": "▼"}}},
{"mark": {"type": "text", "align": "left", "baseline": "middle", "font": "Liberation Sans", "fontSize": 11, "color": "#1c1c8c"},
 "encoding": {"x": {"datum": 235.5, "axis": null}, "y": {"datum": 0.952013, "axis": null}, "text": {"value": "0.00102"}}},
{"mark": {"type": "text", "align": "left", "baseline": "middle", "font": "Liberation Sans", "fontSize": 9, "color": "#555555"},
 "encoding": {"x": {"datum": 261.5, "axis": null}, "y": {"datum": 0.952013, "axis": null}, "text": {"value": "HIGH:"}}},
{"mark": {"type": "text", "align": "left", "baseline": "middle", "font": "Liberation Sans", "fontSize": 11, "color": "#1c1c8c"},
 "encoding": {"x": {"datum": 275.5, "axis": null}, "y": {"datum": 0.952013, "axis": null}, "text": {"value": "0.91740"}}},
{"mark": {"type": "text", "align": "left", "baseline": "middle", "font": "Liberation Sans", "fontSize": 9, "color": "#555555"},
 "encoding": {"x": {"datum": 300, "axis": null}, "y": {"datum": 0.952013, "axis": null}, "text": {"value": "LOW:"}}},
{"mark": {"type": "text", "align": "left", "baseline": "middle", "font": "Liberation Sans", "fontSize": 11, "color": "#1c1c8c"},
 "encoding": {"x": {"datum": 314, "axis": null}, "y": {"datum": 0.952013, "axis": null}, "text": {"value": "0.90840"}}},
{"mark": {"type": "text", "align": "right", "baseline": "middle", "font": "Liberation Sans", "fontSize": 12, "fontWeight": "bold", "color": "#16167c"},
 "encoding": {"x": {"datum": 380.5, "axis": null}, "y": {"datum": 0.952013, "axis": null}, "text": {"value": "4/2/2009 18:00"}}},
{"mark": {"type": "text", "align": "center", "baseline": "middle", "font": "Liberation Sans", "fontSize": 10.5, "color": "#0000ff"},
 "encoding": {"x": {"datum": 181.5, "axis": null}, "y": {"datum": 0.906558, "axis": null}, "text": {"value": "RSI (EURGBP A0-FX,14) = 48.39"}}},
{"mark": {"type": "text", "align": "center", "baseline": "middle", "font": "Liberation Sans", "fontSize": 10.5, "color": "#000000"},
 "encoding": {"x": {"datum": 367.5, "axis": null}, "y": {"datum": 0.882468, "axis": null}, "text": {"value": "60 min."}}}
]
},
{
"layer": [
{"data": {"name": "rgrid"}, "mark": {"type": "rule", "color": "#d4d4d4", "strokeWidth": 1},
 "encoding": {"x": {"datum": -17.5, "axis": null}, "x2": {"datum": 354.5},
  "y": {"field": "v", "type": "quantitative", "scale": {"domain": [-43.56, 241.5], "nice": false, "zero": false}, "axis": null}}},
{"data": {"name": "rlev"}, "mark": {"type": "rule", "color": "#000000", "strokeWidth": 1},
 "encoding": {"x": {"datum": -17.5, "axis": null}, "x2": {"datum": 354.5}, "y": {"field": "v", "type": "quantitative", "axis": null}}},
{"data": {"name": "rlabels"},
 "mark": {"type": "text", "align": "left", "baseline": "middle", "font": "Liberation Sans", "fontSize": 10.5, "color": "#000000", "dy": 1},
 "encoding": {"x": {"datum": 356.5, "axis": null}, "y": {"field": "v", "type": "quantitative", "axis": null}, "text": {"field": "v", "type": "quantitative", "format": ".2f"}}},
{"data": {"name": "rsi"}, "mark": {"type": "line", "color": "#0000ff", "strokeWidth": 1},
 "encoding": {"x": {"field": "t", "type": "quantitative", "axis": null}, "y": {"field": "v", "type": "quantitative", "axis": null}}},
{"data": {"name": "orange"}, "mark": {"type": "line", "color": "#ff8040", "strokeWidth": 1},
 "encoding": {"x": {"field": "t", "type": "quantitative", "axis": null}, "y": {"field": "v", "type": "quantitative", "axis": null}}},
{"mark": {"type": "rect", "fill": "#0a0ae6"},
 "encoding": {"x": {"datum": 355.5, "axis": null}, "x2": {"datum": 381.5}, "y": {"datum": 50.76, "axis": null}, "y2": {"datum": 45.71}}},
{"mark": {"type": "text", "align": "left", "baseline": "middle", "font": "Liberation Sans", "fontSize": 10.5, "color": "#ffffff"},
 "encoding": {"x": {"datum": 356.5, "axis": null}, "y": {"datum": 48.23, "axis": null}, "text": {"value": "48.39"}}}
]
},
{
"layer": [
{"data": {"name": "bars"}, "mark": {"type": "rule", "color": "#000000", "strokeWidth": 1.6},
 "encoding": {"x": {"field": "t", "type": "quantitative", "axis": null},
  "y": {"field": "h", "type": "quantitative", "scale": {"domain": [0.865065, 0.952987], "nice": false, "zero": false}, "axis": null},
  "y2": {"field": "l"}}},
{"mark": {"type": "rect", "fill": "#000080"},
 "encoding": {"x": {"datum": 355.35, "axis": null}, "x2": {"datum": 381.35}, "y": {"datum": 0.915195, "axis": null}, "y2": {"datum": 0.913636}}},
{"mark": {"type": "text", "align": "left", "baseline": "middle", "font": "Liberation Sans", "fontSize": 10.5, "color": "#ffffff"},
 "encoding": {"x": {"datum": 356.5, "axis": null}, "y": {"datum": 0.914416, "axis": null}, "text": {"value": "0.91440"}}},
{"mark": {"type": "rect", "fill": "#ffffff"},
 "encoding": {"x": {"datum": 80, "axis": null}, "x2": {"datum": 100}, "y": {"datum": 0.952987, "axis": null}, "y2": {"datum": 0.950909}}},
{"mark": {"type": "rect", "fill": "#ffffff"},
 "encoding": {"x": {"datum": 179, "axis": null}, "x2": {"datum": 196.5}, "y": {"datum": 0.911429, "axis": null}, "y2": {"datum": 0.907662}}},
{"data": {"name": "upper"}, "mark": {"type": "line", "color": "#ff0000", "strokeWidth": 1},
 "encoding": {"x": {"field": "t", "type": "quantitative", "axis": null}, "y": {"field": "p", "type": "quantitative", "axis": null}}},
{"data": {"name": "lower"}, "mark": {"type": "line", "color": "#00ff00", "strokeWidth": 1},
 "encoding": {"x": {"field": "t", "type": "quantitative", "axis": null}, "y": {"field": "p", "type": "quantitative", "axis": null}}},
{"data": {"name": "arrow"}, "mark": {"type": "line", "color": "#ff0000", "strokeWidth": 3.5},
 "encoding": {"x": {"field": "t", "type": "quantitative", "axis": null}, "y": {"field": "p", "type": "quantitative", "axis": null}}},
{"mark": {"type": "text", "align": "center", "baseline": "middle", "font": "Liberation Serif", "fontSize": 12, "fontStyle": "italic", "color": "#7a1c1c"},
 "encoding": {"x": {"datum": 89.5, "axis": null}, "y": {"datum": 0.952013, "axis": null}, "text": {"value": "0.9498"}}},
{"mark": {"type": "text", "align": "center", "baseline": "middle", "font": "Liberation Serif", "fontSize": 12, "fontStyle": "italic", "color": "#7a1c1c"},
 "encoding": {"x": {"datum": 249.25, "axis": null}, "y": {"datum": 0.944156, "axis": null}, "text": {"value": "0.9417"}}},
{"mark": {"type": "text", "align": "center", "baseline": "middle", "font": "Liberation Serif", "fontSize": 12, "fontStyle": "italic", "color": "#7a1c1c"},
 "encoding": {"x": {"datum": 187.5, "axis": null}, "y": {"datum": 0.912532, "axis": null}, "text": {"value": "0.9156"}}}
]
}
]
}
